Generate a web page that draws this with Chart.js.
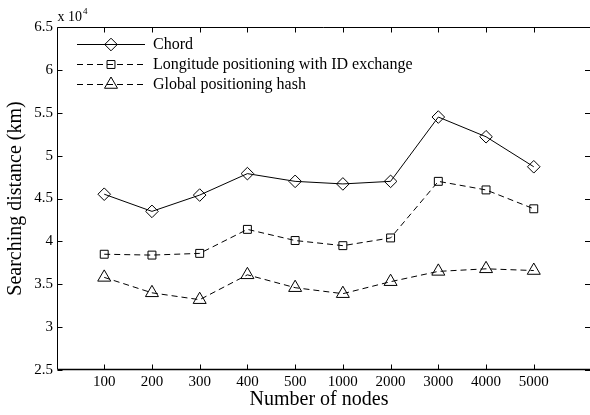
<!DOCTYPE html>
<html>
<head>
<meta charset="utf-8">
<script src="https://cdn.jsdelivr.net/npm/chart.js@4"></script>
<style>
  html, body { margin: 0; padding: 0; background: #fff; }
  #wrap { width: 590px; height: 415px; }
</style>
</head>
<body>
<div id="wrap"><canvas id="searchChart"></canvas></div>
<script>
// x categories (number of nodes)
const nodeCounts = ['100', '200', '300', '400', '500', '1000', '2000', '3000', '4000', '5000'];
// searching distance, units of 10^4 km
const chordDist = [4.55, 4.35, 4.54, 4.79, 4.70, 4.67, 4.70, 5.45, 5.22, 4.87];
const longitudeDist = [3.85, 3.84, 3.86, 4.14, 4.01, 3.95, 4.04, 4.70, 4.60, 4.38];
const globalDist = [3.58, 3.40, 3.32, 3.61, 3.46, 3.39, 3.53, 3.65, 3.68, 3.66];
const yTicks = [2.5, 3, 3.5, 4, 4.5, 5, 5.5, 6, 6.5];

const serif = "'Liberation Serif', 'DejaVu Serif', serif";
Chart.defaults.color = '#000';
Chart.defaults.font.family = serif;

const toPoints = arr => arr.map((v, i) => ({ x: i + 1, y: v }));

// box with inward ticks, legend and the x 10^4 multiplier
const matlabBox = {
  id: 'matlabBox',
  afterDraw(chart) {
    const ctx = chart.ctx;
    const a = chart.chartArea;
    const xs = chart.scales.x, ys = chart.scales.y;
    ctx.save();
    ctx.strokeStyle = '#000';
    ctx.lineWidth = 1;
    const L = Math.round(a.left) + 0.5, T = Math.round(a.top) + 0.5;
    const R = chart.width, B = Math.round(a.bottom) - 0.5;
    ctx.beginPath();
    ctx.moveTo(L, T); ctx.lineTo(R, T);
    ctx.moveTo(L, T); ctx.lineTo(L, B);
    ctx.stroke();
    ctx.lineWidth = 1.4;
    ctx.beginPath();
    ctx.moveTo(L, B); ctx.lineTo(R, B);
    ctx.stroke();
    ctx.lineWidth = 1;
    // x ticks
    ctx.beginPath();
    nodeCounts.forEach((c, i) => {
      const px = Math.round(xs.getPixelForValue(i + 1)) + 0.5;
      ctx.moveTo(px, B); ctx.lineTo(px, B - 5);
      ctx.moveTo(px, T); ctx.lineTo(px, T + 5);
    });
    // y ticks (right side: axis sits at the picture edge)
    yTicks.forEach(v => {
      const py = Math.round(ys.getPixelForValue(v)) + 0.5;
      ctx.moveTo(L, py); ctx.lineTo(L + 5, py);
      ctx.moveTo(R, py); ctx.lineTo(R - 5, py);
    });
    ctx.stroke();

    // multiplier
    ctx.fillStyle = '#000';
    ctx.textBaseline = 'alphabetic';
    ctx.textAlign = 'left';
    ctx.font = '14px ' + serif;
    ctx.fillText('x 10', a.left + 1, a.top - 6);
    const w = ctx.measureText('x 10').width;
    ctx.font = '9px ' + serif;
    ctx.fillText('4', a.left + 1 + w + 1, a.top - 13);

    // legend
    const rowY = [44, 64, 84];
    chart.data.datasets.forEach((ds, i) => {
      const y = rowY[i] + 0.5;
      ctx.strokeStyle = '#000';
      ctx.lineWidth = 1;
      ctx.setLineDash(ds.borderDash || []);
      ctx.beginPath();
      ctx.moveTo(77, y); ctx.lineTo(145, y);
      ctx.stroke();
      ctx.setLineDash([]);
      const opts = { pointStyle: ds.pointStyle, radius: ds.pointRadius, rotation: 0, borderWidth: 1 };
      ctx.fillStyle = 'rgba(0,0,0,0)';
      Chart.helpers.drawPoint(ctx, opts, 111, y);
      ctx.fillStyle = '#000';
      ctx.font = '16px ' + serif;
      ctx.textBaseline = 'middle';
      ctx.fillText(ds.label, 153, y);
    });
    ctx.restore();
  }
};

const common = {
  borderColor: '#000',
  borderWidth: 1,
  pointBorderColor: '#000',
  pointBackgroundColor: 'rgba(0,0,0,0)',
  pointBorderWidth: 1,
  tension: 0
};

new Chart(document.getElementById('searchChart'), {
  type: 'line',
  data: {
    datasets: [
      Object.assign({ label: 'Chord', data: toPoints(chordDist), pointStyle: 'rectRot', pointRadius: 6.3 }, common),
      Object.assign({ label: 'Longitude positioning with ID exchange', data: toPoints(longitudeDist), pointStyle: 'rect', pointRadius: 5.6, borderDash: [6, 4] }, common),
      Object.assign({ label: 'Global positioning hash', data: toPoints(globalDist), pointStyle: 'triangle', pointRadius: 7.5, borderDash: [6, 4] }, common)
    ]
  },
  options: {
    responsive: true,
    maintainAspectRatio: false,
    animation: false,
    layout: { padding: { top: 27, left: 0, right: 0, bottom: 0 } },
    plugins: { legend: { display: false }, tooltip: { enabled: false } },
    scales: {
      x: {
        type: 'linear',
        min: 0,
        max: 11,
        border: { display: false },
        grid: { display: false, drawTicks: false },
        afterBuildTicks: s => { s.ticks = nodeCounts.map((c, i) => ({ value: i + 1 })); },
        ticks: {
          autoSkip: false,
          maxRotation: 0,
          padding: 3,
          font: { size: 15, lineHeight: 1.2 },
          callback: v => nodeCounts[v - 1] || ''
        },
        afterFit: s => { s.height = 45; },
        title: { display: true, text: 'Number of nodes', font: { size: 20, lineHeight: 1.2 }, padding: { top: 0, bottom: 3 } }
      },
      y: {
        min: 2.5,
        max: 6.5,
        border: { display: false },
        grid: { display: false, drawTicks: false },
        afterBuildTicks: s => { s.ticks = yTicks.map(v => ({ value: v })); },
        ticks: {
          padding: 3.5,
          font: { size: 15, lineHeight: 1.2 },
          callback: v => String(v)
        },
        afterFit: s => { s.width = 56.5; },
        title: { display: true, text: 'Searching distance (km)', font: { size: 20, lineHeight: 1.2 }, padding: { top: 4, bottom: 0 } }
      }
    }
  },
  plugins: [matlabBox]
});
</script>
</body>
</html>
